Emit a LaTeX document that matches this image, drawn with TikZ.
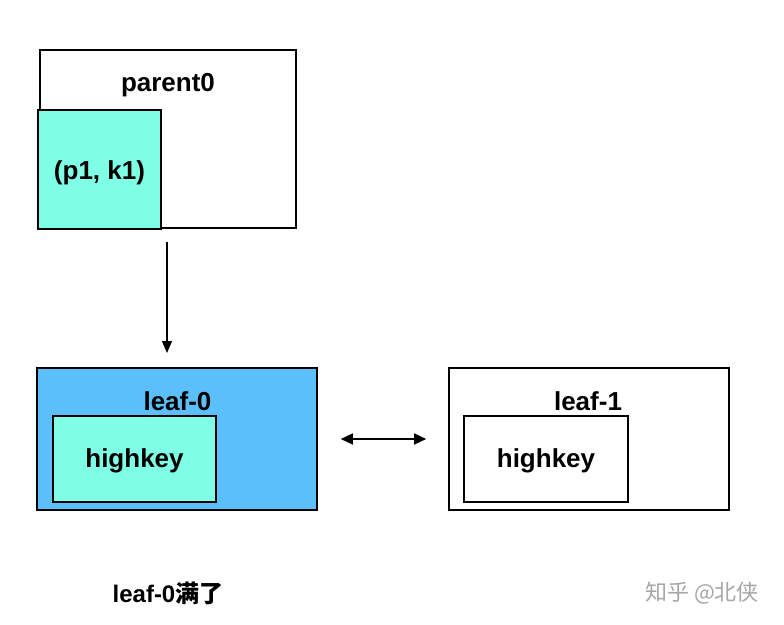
\documentclass[tikz,border=0pt]{standalone}
\usepackage{fontspec}
\setmainfont{Liberation Sans}
\newfontfamily\cjk{Noto Sans CJK SC}
\usetikzlibrary{arrows.meta}
\definecolor{keycyan}{RGB}{127,255,230}
\definecolor{fullblue}{RGB}{91,191,250}
\tikzset{
	pagebox/.style={draw=black, line width=1.6pt, minimum width=#1, inner sep=0pt},
	boxtext/.style={font=\fontsize{26}{30}\selectfont\bfseries, inner sep=0pt},
	tip/.style={-{Triangle[length=12pt, width=10pt]}, line width=1.4pt},
	bothtip/.style={{Triangle[length=12pt, width=11pt]}-{Triangle[length=12pt, width=11pt]}, line width=1.4pt}
}
\begin{document}
\begin{tikzpicture}[x=1pt, y=-1pt]
			\useasboundingbox (0,0) rectangle (784,624);
			% parent page
			\node[pagebox=256pt, minimum height=178pt, fill=white] (parent) at (168, 139) {};
			\node[pagebox=123pt, minimum height=119pt, fill=keycyan] (pk) at (99.5, 169.5) {};
			\node[boxtext] (parentlbl) at (168, 85) {parent0};
			\node[boxtext] (pklbl) at (99.5, 173) {(p1, k1)};
			
			% leaf pages
			\node[pagebox=280pt, minimum height=142pt, fill=fullblue] (leaf0) at (177, 439) {};
			\node[pagebox=163pt, minimum height=86pt, fill=keycyan] (hk0) at (134.5, 459) {};
			\node[boxtext] (leaf0lbl) at (177.5, 401) {leaf-0};
			\node[boxtext] (hk0lbl) at (134.5, 461) {highkey};
			
			\node[pagebox=280pt, minimum height=142pt, fill=white] (leaf1) at (589, 439) {};
			\node[pagebox=164pt, minimum height=86pt, fill=white] (hk1) at (546, 459) {};
			\node[boxtext] (leaf1lbl) at (588, 401) {leaf-1};
			\node[boxtext] (hk1lbl) at (546, 461) {highkey};
			
			\coordinate (down1) at (167, 242);
			\coordinate (down2) at (167, 353);
			\draw [tip] (down1) -- (down2);
			\draw [bothtip] [shorten <=23pt, shorten >=22pt] (leaf0.east) -- (leaf1.west);
			
			\node[font=\fontsize{24}{28}\selectfont\bfseries] (note) at (168, 593) {leaf-0{\cjk 满了}};
			\node[font=\cjk\fontsize{22}{26}\selectfont, text=black!35] (mark) at (702, 593) {知乎 @北侠};
		\end{tikzpicture}
\end{document}
